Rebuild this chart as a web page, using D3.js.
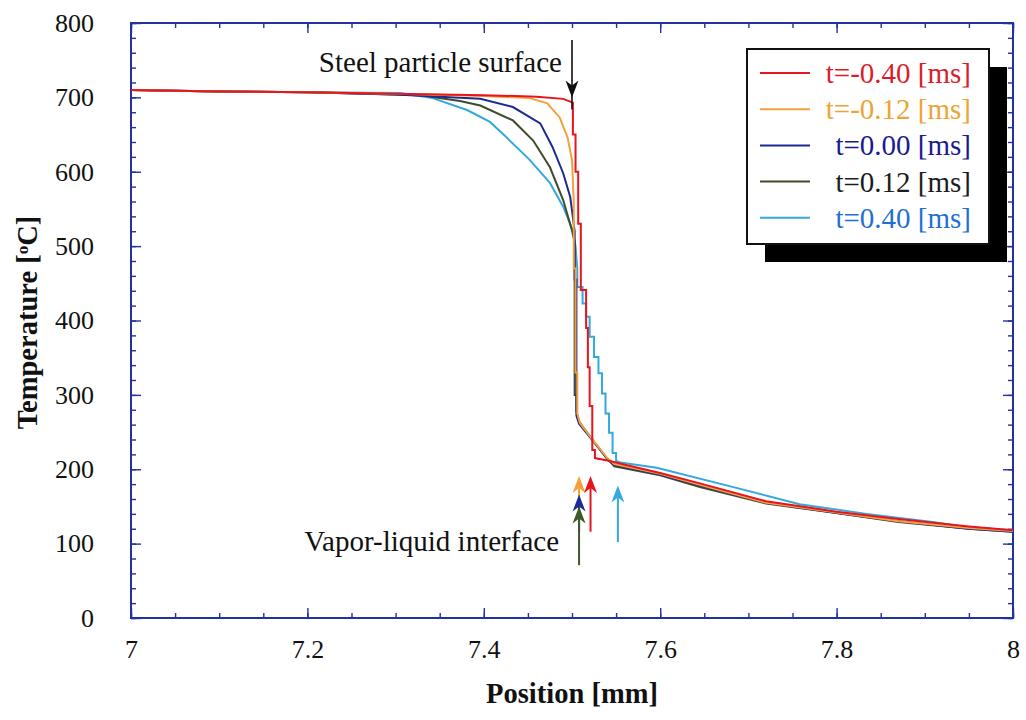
<!DOCTYPE html>
<html>
<head>
<meta charset="utf-8">
<script src="https://cdn.jsdelivr.net/npm/d3@7"></script>
<style>
  html, body { margin: 0; padding: 0; background: #ffffff; }
  svg { display: block; }
  text { font-family: "Liberation Serif", "Times New Roman", Times, serif; }
</style>
</head>
<body>
<svg id="chart" width="1026" height="720"></svg>
<script>
// ---- data: temperature profiles across the particle surface / vapour film ----
const seriesLabels = ["t=-0.40 [ms]", "t=-0.12 [ms]", "t=0.00 [ms]", "t=0.12 [ms]", "t=0.40 [ms]"];

const posM040 = [7.00, 7.10, 7.20, 7.30, 7.40, 7.46, 7.49, 7.501, 7.501, 7.504, 7.504, 7.507, 7.507, 7.510, 7.510,
  7.516, 7.516, 7.518, 7.518, 7.520, 7.520, 7.523, 7.523, 7.526, 7.526, 7.543, 7.56, 7.60, 7.645, 7.72, 7.80, 7.87, 7.95, 8.00];
const tempM040 = [710, 708, 707, 705, 703, 701, 698, 693, 650, 650, 600, 600, 530, 530, 441,
  441, 390, 390, 337, 337, 285, 285, 226, 226, 215, 211, 206, 195, 181, 157, 143, 133, 123, 118];

const posM012 = [7.00, 7.10, 7.20, 7.30, 7.40, 7.452, 7.472, 7.486, 7.495, 7.500, 7.502, 7.502, 7.504, 7.504, 7.506, 7.506,
  7.509, 7.523, 7.540, 7.548, 7.60, 7.645, 7.72, 7.80, 7.87, 7.95, 8.00];
const tempM012 = [710, 708, 707, 705, 702, 699, 692, 673, 646, 616, 560, 470, 470, 330, 330, 275,
  262, 240, 215, 207, 194, 179, 155, 142, 130, 121, 117];

const pos000 = [7.00, 7.10, 7.20, 7.30, 7.396, 7.433, 7.464, 7.478, 7.490, 7.498, 7.501, 7.503, 7.503, 7.505, 7.505,
  7.508, 7.523, 7.540, 7.548, 7.60, 7.645, 7.72, 7.80, 7.87, 7.95, 8.00];
const temp000 = [710, 708, 707, 704, 698, 687, 665, 633, 598, 566, 539, 520, 455, 455, 272,
  261, 239, 214, 206, 193, 178, 155, 141, 130, 120, 116];

const pos012 = [7.00, 7.10, 7.20, 7.328, 7.373, 7.396, 7.433, 7.456, 7.475, 7.490, 7.500, 7.503, 7.503, 7.505, 7.505,
  7.508, 7.523, 7.540, 7.548, 7.60, 7.645, 7.72, 7.80, 7.87, 7.95, 8.00];
const temp012 = [710, 708, 707, 703, 695, 689, 669, 642, 606, 562, 521, 505, 300, 300, 278,
  264, 240, 214, 204, 192, 176, 154, 141, 129, 120, 116];

const pos040 = [7.00, 7.10, 7.20, 7.305, 7.342, 7.381, 7.407, 7.426, 7.452, 7.475, 7.490, 7.501, 7.504, 7.506, 7.506,
  7.512, 7.512, 7.516, 7.516, 7.520, 7.520, 7.525, 7.525, 7.530, 7.530, 7.534, 7.534, 7.538, 7.538, 7.542, 7.542,
  7.546, 7.546, 7.550, 7.550, 7.555, 7.596, 7.683, 7.758, 7.834, 7.909, 7.948, 8.00];
const temp040 = [710, 708, 707, 706, 699, 683, 667, 646, 616, 585, 553, 521, 500, 470, 445,
  445, 423, 423, 405, 405, 378, 378, 351, 351, 329, 329, 302, 302, 275, 275, 249,
  249, 222, 222, 211, 209, 202, 176, 153, 140, 129, 122, 118];

const seriesColors = ["#e8141e", "#f5a03a", "#1c2a94", "#3e4c2c", "#33a9dd"];
const legendTextColors = ["#d81e2a", "#eba535", "#1a1a8c", "#1c1c1c", "#1f6fd6"];

// vapour-liquid interface positions [mm] with arrow tip / tail temperatures
const interfacePos = [7.508, 7.521, 7.508, 7.508, 7.552];
const interfaceTip = [191, 191, 166, 150, 178];
const interfaceTail = [116, 116, 116, 71, 102];
const interfaceColors = ["#f5a03a", "#e8141e", "#1c2a94", "#3e5a2c", "#33a9dd"];
const arrowOrder = [0, 1, 4, 2, 3];

// steel particle surface marker
const surfacePos = 7.5;
const surfaceTip = 700;
const surfaceTail = 777;

const xTickLabels = [7, 7.2, 7.4, 7.6, 7.8, 8];
const yTickLabels = [0, 100, 200, 300, 400, 500, 600, 700, 800];

const series = [
  { pos: posM040, temp: tempM040 },
  { pos: posM012, temp: tempM012 },
  { pos: pos000, temp: temp000 },
  { pos: pos012, temp: temp012 },
  { pos: pos040, temp: temp040 }
].map((s, i) => ({
  label: seriesLabels[i],
  color: seriesColors[i],
  textColor: legendTextColors[i],
  points: s.pos.map((p, j) => [p, s.temp[j]])
}));

// ---- layout ----
const svg = d3.select("#chart");
const frame = { left: 131, right: 1013, top: 23, bottom: 618 };
const axisColor = "#2230a0";
const FONT = 26;
const TITLE_FONT = 28.5;
const NOTE_FONT = 29;

const x = d3.scaleLinear().domain([7, 8]).range([frame.left, frame.right]);
const y = d3.scaleLinear().domain([0, 800]).range([frame.bottom, frame.top]);

const minorX = d3.range(0, 21).map(i => 7 + i * 0.05);
const minorY = d3.range(0, 41).map(i => i * 20);

function styleAxis(g) {
  g.select(".domain").remove();
  g.selectAll(".tick line").attr("stroke", axisColor).attr("stroke-width", 1.4);
}

// minor ticks, all four sides, pointing inward
svg.append("g").attr("transform", `translate(0,${frame.bottom})`)
  .call(d3.axisBottom(x).tickValues(minorX).tickSize(-5).tickFormat(""))
  .call(styleAxis);
svg.append("g").attr("transform", `translate(0,${frame.top})`)
  .call(d3.axisTop(x).tickValues(minorX).tickSize(-5).tickFormat(""))
  .call(styleAxis);
svg.append("g").attr("transform", `translate(${frame.left},0)`)
  .call(d3.axisLeft(y).tickValues(minorY).tickSize(-5).tickFormat(""))
  .call(styleAxis);
svg.append("g").attr("transform", `translate(${frame.right},0)`)
  .call(d3.axisRight(y).tickValues(minorY).tickSize(-5).tickFormat(""))
  .call(styleAxis);

// major ticks with labels
const xAxis = svg.append("g").attr("transform", `translate(0,${frame.bottom})`)
  .call(d3.axisBottom(x).tickValues(xTickLabels).tickSizeInner(-10).tickSizeOuter(0)
    .tickPadding(22).tickFormat(d3.format("~g")))
  .call(styleAxis);
xAxis.selectAll("text").attr("font-size", FONT).attr("fill", "#111")
  .attr("font-family", "'Liberation Serif', 'Times New Roman', serif");

const yAxis = svg.append("g").attr("transform", `translate(${frame.left},0)`)
  .call(d3.axisLeft(y).tickValues(yTickLabels).tickSizeInner(-10).tickSizeOuter(0)
    .tickPadding(37).tickFormat(d3.format("d")))
  .call(styleAxis);
yAxis.selectAll("text").attr("font-size", FONT).attr("fill", "#111")
  .attr("font-family", "'Liberation Serif', 'Times New Roman', serif");

svg.append("g").attr("transform", `translate(0,${frame.top})`)
  .call(d3.axisTop(x).tickValues(xTickLabels).tickSize(-10).tickFormat(""))
  .call(styleAxis);
svg.append("g").attr("transform", `translate(${frame.right},0)`)
  .call(d3.axisRight(y).tickValues(yTickLabels).tickSize(-10).tickFormat(""))
  .call(styleAxis);

// plot frame
svg.append("rect")
  .attr("x", frame.left).attr("y", frame.top)
  .attr("width", frame.right - frame.left).attr("height", frame.bottom - frame.top)
  .attr("fill", "none").attr("stroke", axisColor).attr("stroke-width", 2);

// axis titles
svg.append("text")
  .attr("x", 572).attr("y", 703)
  .attr("text-anchor", "middle").attr("font-size", TITLE_FONT).attr("font-weight", "bold")
  .attr("fill", "#111").text("Position [mm]");
const yTitle = svg.append("text")
  .attr("transform", `translate(37,${(frame.top + frame.bottom) / 2 + 2}) rotate(-90)`)
  .attr("text-anchor", "middle").attr("font-size", TITLE_FONT).attr("font-weight", "bold")
  .attr("fill", "#111");
yTitle.append("tspan").text("Temperature [");
yTitle.append("tspan").attr("font-size", TITLE_FONT * 0.6).attr("dy", -9).text("o");
yTitle.append("tspan").attr("dy", 9).text("C]");

// temperature profiles (later times underneath)
const line = d3.line().x(d => x(d[0])).y(d => y(d[1]));
const drawOrder = [4, 3, 2, 1, 0];
svg.append("g").selectAll("path")
  .data(drawOrder.map(i => series[i]))
  .join("path")
  .attr("d", d => line(d.points))
  .attr("fill", "none")
  .attr("stroke", d => d.color)
  .attr("stroke-width", 2)
  .attr("stroke-linejoin", "miter");

// arrow helper: shaft plus a notched filled head
function arrow(g, xPix, yTip, yTail, color, shaftW) {
  const headLen = 17, headHalf = 6.5, notch = 5;
  g.append("line")
    .attr("x1", xPix).attr("x2", xPix)
    .attr("y1", yTail).attr("y2", yTip + headLen - notch)
    .attr("stroke", color).attr("stroke-width", shaftW);
  const dir = yTail > yTip ? 1 : -1;
  g.append("path")
    .attr("d", `M${xPix},${yTip} L${xPix - headHalf},${yTip + dir * headLen} ` +
      `L${xPix},${yTip + dir * (headLen - notch)} L${xPix + headHalf},${yTip + dir * headLen} Z`)
    .attr("fill", color);
}

// steel particle surface marker
const annot = svg.append("g");
arrow(annot, x(surfacePos), y(surfaceTip), y(surfaceTail), "#111", 1.6);
annot.append("text")
  .attr("x", 562).attr("y", 72).attr("text-anchor", "end")
  .attr("font-size", NOTE_FONT).attr("fill", "#111").text("Steel particle surface");

// vapour-liquid interface markers
arrowOrder.forEach(i => {
  arrow(annot, x(interfacePos[i]), y(interfaceTip[i]), y(interfaceTail[i]), interfaceColors[i], 2);
});
annot.append("text")
  .attr("x", 559).attr("y", 551).attr("text-anchor", "end")
  .attr("font-size", NOTE_FONT).attr("fill", "#111").text("Vapor-liquid interface");

// legend with drop shadow
const lg = { x: 747, y: 49, w: 242, h: 195, off: 18 };
const legend = svg.append("g");
legend.append("rect")
  .attr("x", lg.x + lg.off).attr("y", lg.y + lg.off)
  .attr("width", lg.w).attr("height", lg.h).attr("fill", "#000");
legend.append("rect")
  .attr("x", lg.x).attr("y", lg.y)
  .attr("width", lg.w).attr("height", lg.h)
  .attr("fill", "#fff").attr("stroke", "#111").attr("stroke-width", 2);

const rows = legend.selectAll("g.row").data(series).join("g")
  .attr("class", "row")
  .attr("transform", (d, i) => `translate(0,${73 + i * 36.2})`);
rows.append("line")
  .attr("x1", 760).attr("x2", 810).attr("y1", 0).attr("y2", 0)
  .attr("stroke", d => d.color).attr("stroke-width", 2);
rows.append("text")
  .attr("x", 971).attr("y", 10).attr("text-anchor", "end")
  .attr("font-size", 29).attr("fill", d => d.textColor)
  .text(d => d.label);
</script>
</body>
</html>
